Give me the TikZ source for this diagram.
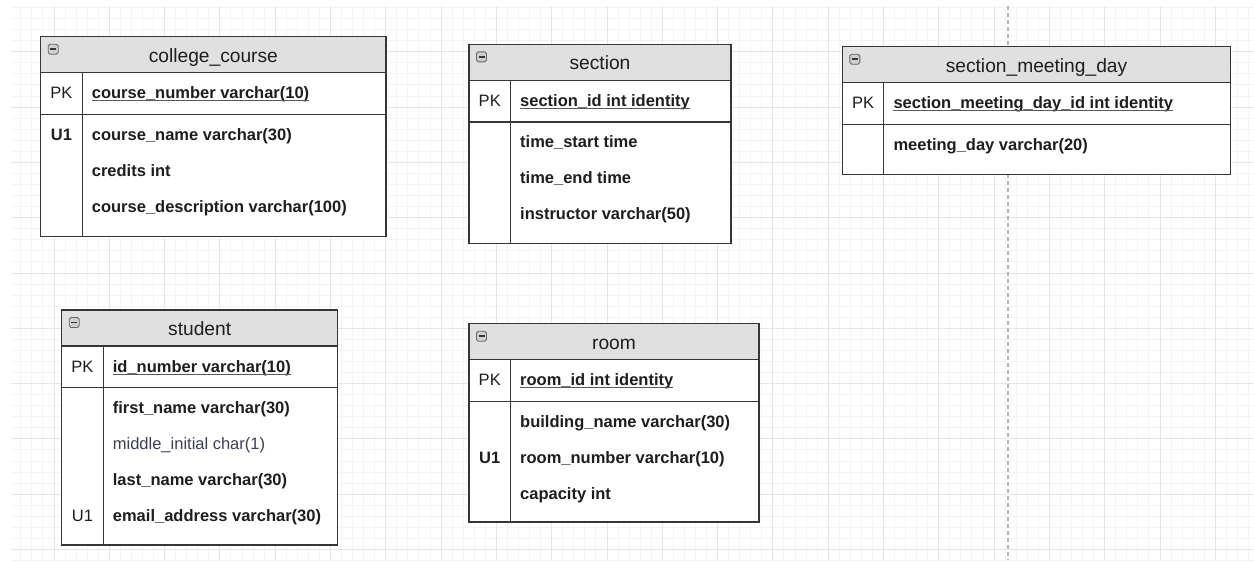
\documentclass[tikz,border=0pt]{standalone}
\usepackage{fontspec}
\setmainfont{Liberation Sans}
\usetikzlibrary{calc}

\definecolor{gridminor}{HTML}{F4F4F4}
\definecolor{gridmajor}{HTML}{E6E6E6}
\definecolor{guideline}{HTML}{B4B4B4}
\definecolor{headgray}{HTML}{E0E0E0}
\definecolor{tblborder}{HTML}{363636}
\definecolor{tbltext}{HTML}{1E1E1E}
\definecolor{softtext}{HTML}{3E3E58}
\definecolor{iconfill}{HTML}{CFCFCF}
\definecolor{iconedge}{HTML}{666666}
\definecolor{undergray}{HTML}{5A5A5A}

\newcommand{\bodyfont}{\fontsize{16.5}{19}\selectfont}
\newcommand{\titlefont}{\fontsize{19.2}{22}\selectfont}

\tikzset{
    tblline/.style={draw=tblborder, line width=1.3pt},
    headfill/.style={fill=headgray},
    tbltitle/.style={anchor=base, inner sep=0pt, font=\titlefont, text=tbltext},
    keytext/.style={anchor=base, inner sep=0pt, font=\bodyfont, text=tbltext},
    keybold/.style={keytext, font=\bodyfont\bfseries},
    fieldtext/.style={anchor=base west, inner sep=0pt, font=\bodyfont\bfseries, text=tbltext},
    softfield/.style={fieldtext, font=\bodyfont, text=softtext},
    pkunder/.style={draw=undergray, line width=1.1pt},
    collapse/.style={draw=iconedge, fill=iconfill, rounded corners=1.8pt, line width=0.9pt,
        minimum size=10pt, inner sep=0pt, text=tblborder},
}

\newcommand{\dbtable}[6]{%
    \coordinate (#1) at (#2,#3);
    \fill[white] (#1) rectangle ++(#4,#5);
    \fill[headfill] (#1) rectangle ++(#4,36);
    \draw[tblline] (#1) rectangle ++(#4,#5);
    \draw[tblline] ($(#1)+(0,36)$) -- ++(#4,0);
    \draw[tblline] ($(#1)+(0,77.7)$) -- ++(#4,0);
    \draw[tblline] ($(#1)+(41.5,36)$) -- ($(#1)+(41.5,#5)$);
    \node[tbltitle] (#1-title) at ($(#1)+(#4/2,25.3)$) {#6};
    \node[collapse] (#1-icon) at ($(#1)+(12.5,12.5)$) {\rule[-0.8pt]{6pt}{1.7pt}};
    \node[keytext] (#1-pkkey) at ($(#1)+(20.75,62)$) {PK};
}
\newcommand{\dbpk}[3]{%
    \node[fieldtext] (#2) at ($(#1)+(51,62)$) {#3};
    \draw[pkunder] ([yshift=-2.2pt]#2.base west) -- ([yshift=-2.2pt]#2.base east);
}
\newcommand{\dbfield}[5][fieldtext]{%
    \node[#1] (#3) at ($(#2)+(51,103.6+36*#4)$) {#5};
}
\newcommand{\dbkey}[5][keytext]{%
    \node[#1] (#3) at ($(#2)+(20.75,103.6+36*#4)$) {#5};
}

\begin{document}
\begin{tikzpicture}[x=1pt,y=-1pt]
    \useasboundingbox (0,0) rectangle (1254,563);

    \begin{scope}
        \clip (11,6) rectangle (1254,560);
        \foreach \k in {0,...,112} {
            \draw[gridminor, line width=1pt] ({9.76+11.06*\k},6) -- ++(0,554);
        }
        \foreach \k in {0,...,50} {
            \draw[gridminor, line width=1pt] (11,{7.56+11.06*\k}) -- ++(1243,0);
        }
        \foreach \k in {0,...,21} {
            \draw[gridmajor, line width=1pt] ({54+55.3*\k},6) -- ++(0,554);
        }
        \foreach \k in {0,...,9} {
            \draw[gridmajor, line width=1pt] (11,{51.8+55.3*\k}) -- ++(1243,0);
        }
    \end{scope}
    \draw[guideline, line width=1.2pt, dash pattern=on 4pt off 3pt] (1008,6) -- (1008,560);

    \dbtable{course}{40.7}{36.7}{345.3}{200}{college\_course}
    \dbpk{course}{course-id}{course\_number varchar(10)}
    \dbkey[keybold]{course}{course-u1}{0}{U1}
    \dbfield{course}{course-name}{0}{course\_name varchar(30)}
    \dbfield{course}{course-credits}{1}{credits int}
    \dbfield{course}{course-desc}{2}{course\_description varchar(100)}

    \dbtable{section}{469}{44.3}{262}{199}{section}
    \dbpk{section}{section-id}{section\_id int identity}
    \dbfield{section}{section-start}{0}{time\_start time}
    \dbfield{section}{section-end}{1}{time\_end time}
    \dbfield{section}{section-instr}{2}{instructor varchar(50)}

    \dbtable{meetday}{842.3}{46.7}{388.4}{127.6}{section\_meeting\_day}
    \dbpk{meetday}{meetday-id}{section\_meeting\_day\_id int identity}
    \dbfield{meetday}{meetday-day}{0}{meeting\_day varchar(20)}

    \dbtable{student}{61.7}{310}{276}{235}{student}
    \dbpk{student}{student-id}{id\_number varchar(10)}
    \dbfield{student}{student-first}{0}{first\_name varchar(30)}
    \dbfield[softfield]{student}{student-middle}{1}{middle\_initial char(1)}
    \dbfield{student}{student-last}{2}{last\_name varchar(30)}
    \dbkey{student}{student-u1}{3}{U1}
    \dbfield{student}{student-email}{3}{email\_address varchar(30)}

    \dbtable{room}{469}{323.7}{290}{198.3}{room}
    \dbpk{room}{room-id}{room\_id int identity}
    \dbkey[keybold]{room}{room-u1}{1}{U1}
    \dbfield{room}{room-building}{0}{building\_name varchar(30)}
    \dbfield{room}{room-number}{1}{room\_number varchar(10)}
    \dbfield{room}{room-capacity}{2}{capacity int}
\end{tikzpicture}
\end{document}
